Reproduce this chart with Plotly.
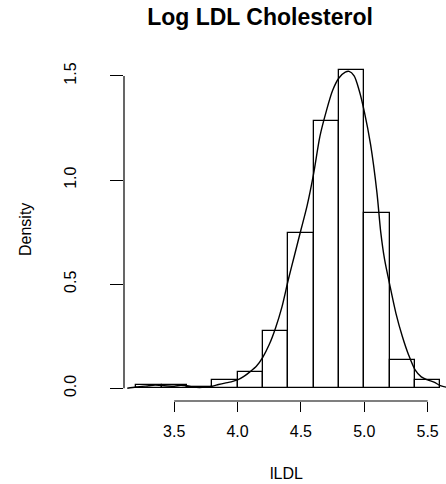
import plotly.graph_objects as go

# Histogram of log LDL (density scale), bins of width 0.2
bin_left = [3.2, 3.4, 3.6, 3.8, 4.0, 4.2, 4.4, 4.6, 4.8, 5.0, 5.2, 5.4]
bin_width = 0.2
density = [0.016, 0.016, 0.005, 0.038, 0.079, 0.275, 0.744, 1.282, 1.530, 0.843, 0.136, 0.040]

# Kernel density curve
kde_x = [3.13, 3.2, 3.3, 3.35, 3.4, 3.5, 3.55, 3.6, 3.65, 3.7, 3.75, 3.8, 3.85, 3.9, 3.95,
         4.0, 4.05, 4.1, 4.15, 4.2, 4.25, 4.3, 4.35, 4.4, 4.45, 4.5, 4.55, 4.6, 4.65, 4.7,
         4.75, 4.8, 4.85, 4.88, 4.92, 4.96, 5.0, 5.05, 5.1, 5.13, 5.16, 5.2, 5.25, 5.3,
         5.35, 5.4, 5.45, 5.5, 5.55, 5.6, 5.65, 5.7]
kde_y = [0.0, 0.006, 0.012, 0.015, 0.013, 0.010, 0.014, 0.012, 0.006, 0.004, 0.006, 0.010,
         0.018, 0.025, 0.031, 0.040, 0.057, 0.080, 0.107, 0.150, 0.210, 0.290, 0.390, 0.520,
         0.640, 0.760, 0.880, 1.030, 1.210, 1.330, 1.430, 1.490, 1.518, 1.522, 1.500, 1.430,
         1.330, 1.170, 0.940, 0.750, 0.620, 0.500, 0.360, 0.250, 0.160, 0.090, 0.055, 0.040,
         0.030, 0.013, 0.005, 0.002]

x_ticks = [3.5, 4.0, 4.5, 5.0, 5.5]
x_ticktext = ["3.5", "4.0", "4.5", "5.0", "5.5"]
y_ticks = [0.0, 0.5, 1.0, 1.5]
y_ticktext = ["0.0", "0.5", "1.0", "1.5"]

title_text = "Log LDL Cholesterol"
x_label = "lLDL"
y_label = "Density"

centers = [b + bin_width / 2 for b in bin_left]

FONT = "Liberation Sans, Arial, sans-serif"
PLOT_H = 484 - 57 - 83
PLOT_W = 446 - 124

fig = go.Figure()
fig.add_trace(go.Bar(
    x=centers, y=density, width=[bin_width] * len(centers),
    marker=dict(color="white", line=dict(color="black", width=1.3)),
    showlegend=False, hoverinfo="skip",
))
fig.add_trace(go.Scatter(
    x=kde_x, y=kde_y, mode="lines",
    line=dict(color="black", width=1.4, shape="spline", smoothing=0.8),
    showlegend=False, hoverinfo="skip",
))

fig.update_layout(
    width=446, height=484,
    margin=dict(l=124, r=0, t=57, b=83, autoexpand=False),
    paper_bgcolor="white", plot_bgcolor="white",
    font=dict(family=FONT, color="black"),
    bargap=0,
    title=dict(text="<b>" + title_text + "</b>", x=260 / 446, xanchor="center",
               y=1 - 17 / 484, yanchor="middle", yref="container", automargin=False,
               font=dict(size=23, family=FONT, color="black")),
    xaxis=dict(range=[3.104, 5.645], showgrid=False, zeroline=False, showline=False,
               automargin=False,
               tickmode="array", tickvals=x_ticks, ticktext=x_ticktext,
               ticks="outside", ticklen=10, tickwidth=1.2, tickcolor="black",
               tickfont=dict(size=16, family=FONT, color="black"),
               ticklabelstandoff=6),
    yaxis=dict(range=[-0.061, 1.591], showgrid=False, zeroline=False, showline=False,
               automargin=False,
               tickmode="array", tickvals=y_ticks, ticktext=y_ticktext,
               ticks="outside", ticklen=13, tickwidth=1.2, tickcolor="black",
               tickangle=-90,
               tickfont=dict(size=16, family=FONT, color="black"),
               ticklabelstandoff=28),
    shapes=[
        dict(type="line", xref="x", yref="paper", x0=x_ticks[0], x1=x_ticks[-1], y0=0, y1=0,
             line=dict(color="black", width=1.2)),
        dict(type="line", xref="paper", yref="y", x0=0, x1=0, y0=y_ticks[0], y1=y_ticks[-1],
             line=dict(color="black", width=1.2)),
    ],
    annotations=[
        dict(text=x_label, xref="paper", yref="paper", x=(286 - 124) / PLOT_W,
             y=-(473 - 401) / PLOT_H,
             xanchor="center", yanchor="middle", showarrow=False,
             font=dict(size=16, family=FONT, color="black")),
        dict(text=y_label, xref="paper", yref="paper", x=-(124 - 25) / PLOT_W, y=0.5,
             xanchor="center", yanchor="middle", showarrow=False, textangle=-90,
             font=dict(size=16, family=FONT, color="black")),
    ],
)

fig.write_html("out.html", config={"displayModeBar": False},
               post_script="document.body.style.margin='0px';")
